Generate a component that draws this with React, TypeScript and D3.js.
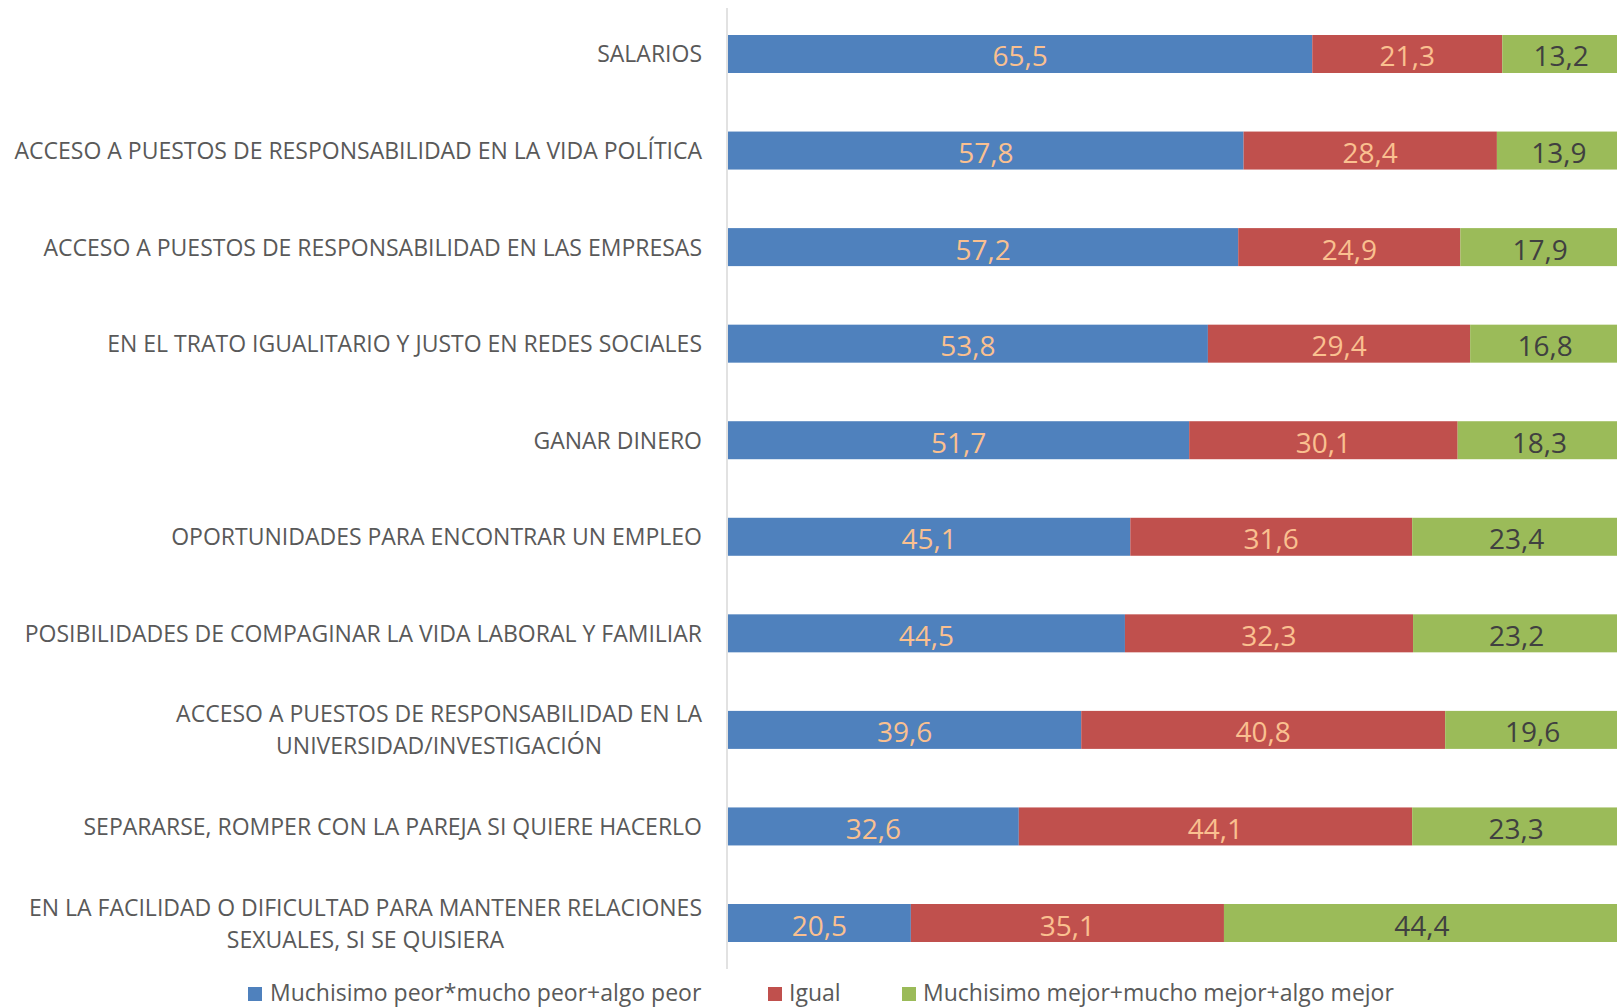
import React from "react";
import * as d3 from "d3";

const categories: string[][] = [
  ["SALARIOS"],
  ["ACCESO A PUESTOS DE RESPONSABILIDAD EN LA VIDA POLÍTICA"],
  ["ACCESO A PUESTOS DE RESPONSABILIDAD EN LAS EMPRESAS"],
  ["EN EL TRATO IGUALITARIO Y JUSTO EN REDES SOCIALES"],
  ["GANAR DINERO"],
  ["OPORTUNIDADES PARA ENCONTRAR UN EMPLEO"],
  ["POSIBILIDADES DE COMPAGINAR LA VIDA LABORAL Y FAMILIAR"],
  ["ACCESO A PUESTOS DE RESPONSABILIDAD EN LA", "UNIVERSIDAD/INVESTIGACIÓN"],
  ["SEPARARSE, ROMPER CON LA PAREJA SI QUIERE HACERLO"],
  ["EN LA FACILIDAD O DIFICULTAD PARA MANTENER RELACIONES", "SEXUALES, SI SE QUISIERA"],
];

const peor: number[] = [65.5, 57.8, 57.2, 53.8, 51.7, 45.1, 44.5, 39.6, 32.6, 20.5];
const igual: number[] = [21.3, 28.4, 24.9, 29.4, 30.1, 31.6, 32.3, 40.8, 44.1, 35.1];
const mejor: number[] = [13.2, 13.9, 17.9, 16.8, 18.3, 23.4, 23.2, 19.6, 23.3, 44.4];

const seriesNames: string[] = [
  "Muchisimo peor*mucho peor+algo peor",
  "Igual",
  "Muchisimo mejor+mucho mejor+algo mejor",
];

const W = 1617;
const H = 1007;
const FONT = "'Open Sans', 'Noto Sans', sans-serif";
const LABEL_FS = 23;
const colors = ["#4F81BD", "#C0504D", "#9BBB59"];
const labelColors = ["#FAC090", "#FAC090", "#404040"];

export default function App() {
  const seriesValues = [peor, igual, mejor];
  const rows = categories.map((c, i) => ({
    key: String(i),
    label: c,
    s0: peor[i],
    s1: igual[i],
    s2: mejor[i],
  }));
  const stack = d3.stack<any>().keys(["s0", "s1", "s2"]);
  const stacked = stack(rows);

  const x = d3.scaleLinear().domain([0, 100]).range([728, 1620]);
  const step = 96.56;
  const pad = 1 - 38 / step;
  const y = d3
    .scaleBand<string>()
    .domain(rows.map((r) => r.key))
    .range([54 - step / 2, 923 + step / 2])
    .paddingInner(pad)
    .paddingOuter(pad / 2);
  const bw = y.bandwidth();
  const fmt = (v: number) => d3.format(".1f")(v).replace(".", ",");

  const legendItems = [
    { sx: 248, tx: 270 },
    { sx: 768, tx: 789 },
    { sx: 902, tx: 923 },
  ];

  return (
    <svg
      width={W}
      height={H}
      style={{ position: "absolute", left: 0, top: 0, background: "#fff" }}
      fontFamily={FONT}
    >
      <rect x={0} y={0} width={W} height={H} fill="#fff" />
      {/* category labels */}
      {rows.map((r) => {
        const cy = (y(r.key) as number) + bw / 2;
        const lines = r.label;
        const lh = 32;
        if (lines.length === 1) {
          return (
            <text
              key={"l" + r.key}
              x={702}
              y={cy + 8.5}
              textAnchor="end"
              fontSize={LABEL_FS}
              fill="#595959"
            >
              {lines[0]}
            </text>
          );
        }
        return (
          <g key={"l" + r.key}>
            <text
              x={702}
              y={cy - lh / 2 + 8.5}
              textAnchor="end"
              fontSize={LABEL_FS}
              fill="#595959"
            >
              {lines[0]}
            </text>
            <MultiLine2 first={lines[0]} second={lines[1]} y={cy + lh / 2 + 8.5} />
          </g>
        );
      })}
      {/* bars */}
      {stacked.map((s, si) => (
        <g key={"s" + si} fill={colors[si]}>
          {s.map((d, i) => (
            <rect
              key={i}
              x={x(d[0])}
              y={y(rows[i].key)}
              width={x(d[1]) - x(d[0])}
              height={bw}
            />
          ))}
        </g>
      ))}
      {/* data labels */}
      {stacked.map((s, si) => (
        <g key={"dl" + si} fill={labelColors[si]} fontSize={28} textAnchor="middle">
          {s.map((d, i) => (
            <text
              key={i}
              x={(x(d[0]) + x(d[1])) / 2}
              y={(y(rows[i].key) as number) + bw / 2 + 12.5}
            >
              {fmt(seriesValues[si][i])}
            </text>
          ))}
        </g>
      ))}
      {/* axis line */}
      <line x1={727} x2={727} y1={8} y2={969} stroke="#D9D9D9" strokeWidth={1.5} />
      {/* legend */}
      {seriesNames.map((n, i) => (
        <g key={"lg" + i}>
          <rect x={legendItems[i].sx} y={987} width={14} height={14} fill={colors[i]} />
          <text x={legendItems[i].tx} y={1001} fontSize={LABEL_FS} fill="#595959">
            {n}
          </text>
        </g>
      ))}
    </svg>
  );
}

function MultiLine2({ first, second, y }: { first: string; second: string; y: number }) {
  const ref1 = React.useRef<SVGTextElement>(null);
  const [cx, setCx] = React.useState<number | null>(null);
  React.useEffect(() => {
    const c = document.createElementNS("http://www.w3.org/2000/svg", "text");
    const svg = ref1.current?.ownerSVGElement;
    if (!svg) return;
    c.setAttribute("font-size", String(LABEL_FS));
    c.setAttribute("font-family", FONT);
    c.textContent = first;
    svg.appendChild(c);
    const w = c.getComputedTextLength();
    svg.removeChild(c);
    setCx(702 - w / 2);
  }, [first]);
  return (
    <text
      ref={ref1}
      x={cx ?? 702}
      y={y}
      textAnchor={cx === null ? "end" : "middle"}
      fontSize={LABEL_FS}
      fill="#595959"
    >
      {second}
    </text>
  );
}
